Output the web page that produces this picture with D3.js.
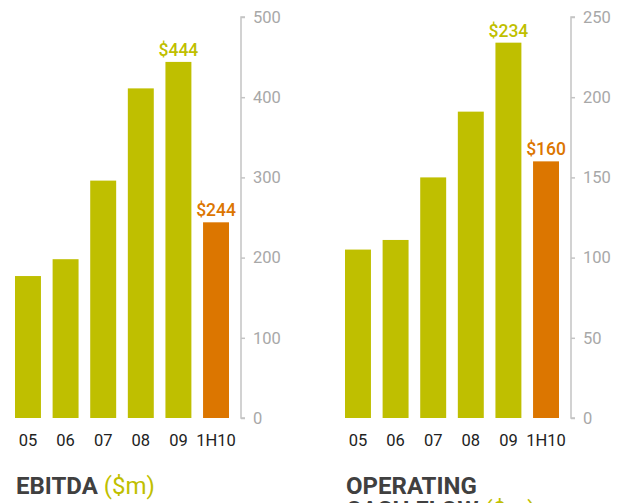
<!DOCTYPE html>
<html><head><meta charset="utf-8">
<script src="https://cdn.jsdelivr.net/npm/d3@7/dist/d3.min.js"></script>
<style>
html,body{margin:0;padding:0;background:#fff;overflow:hidden}
svg{display:block}
</style></head>
<body>
<svg id="c" width="622" height="503"></svg>
<script>
const categories = ["05","06","07","08","09","1H10"];
const ebitdaValues = [177, 198, 296, 411, 444, 244];
const cashFlowValues = [105, 111, 150, 191, 234, 160];
const ebitdaTicks = [0,100,200,300,400,500];
const cashFlowTicks = [0,50,100,150,200,250];
const labeledCategories = ["09","1H10"];

const olive = "#bfbf00", orange = "#dc7600";
const svg = d3.select("#c");
const font = "Roboto, 'Noto Sans', sans-serif";

function chart(cfg){
  const g = svg.append("g");
  const data = categories.map((c,i)=>({c, v: cfg.values[i]}));
  const col = d => d.c==="1H10" ? orange : olive;
  const x = d3.scaleBand().domain(categories).range(cfg.xr).paddingInner(0.31).paddingOuter(0);
  const y = d3.scaleLinear().domain([0, cfg.max]).range([418, 17]);
  g.selectAll("rect.bar").data(data).join("rect")
    .attr("x",d=>x(d.c)).attr("width",x.bandwidth())
    .attr("y",d=>y(d.v)).attr("height",d=>y(0)-y(d.v))
    .attr("fill",col);
  g.selectAll("text.val").data(data.filter(d=>labeledCategories.includes(d.c))).join("text")
    .attr("x",d=>x(d.c)+x.bandwidth()/2)
    .attr("y",d=>y(d.v)-6)
    .attr("text-anchor","middle")
    .attr("font-family",font).attr("font-weight",500).attr("font-size",17.5)
    .attr("fill",col)
    .text(d=>"$"+d.v);
  g.selectAll("text.cat").data(categories).join("text")
    .attr("x",c=>x(c)+x.bandwidth()/2).attr("y",446)
    .attr("text-anchor","middle")
    .attr("font-family",font).attr("font-size",16.5).attr("fill","#222")
    .text(c=>c);
  const ax = g.append("g").attr("transform",`translate(${cfg.axisX},0)`)
    .call(d3.axisRight(y).tickValues(cfg.ticks).tickSize(4).tickPadding(8));
  ax.select(".domain").attr("stroke","#c4c4c4").attr("stroke-width",1.5)
    .attr("d",`M4,${y(cfg.max)}H0V${y(0)}H4`);
  ax.selectAll(".tick line").attr("stroke","#c4c4c4").attr("stroke-width",1.5);
  ax.selectAll(".tick text").attr("fill","#a8a8a8").attr("font-family",font).attr("font-size",16.5);
  const t = g.append("text").attr("font-family",font).attr("font-size",24).attr("font-weight",700).attr("fill","#404040");
  cfg.title.forEach((line,i)=>{
    t.append("tspan").attr("x",cfg.titleX).attr("y",494+i*24).text(line[0]);
    if(line[1]) t.append("tspan").attr("fill",olive).attr("font-weight",400).text(" "+line[1]);
  });
}

chart({values: ebitdaValues, max: 500, ticks: ebitdaTicks, xr:[15,229], axisX: 241,
  titleX: 16, title: [["EBITDA","($m)"]]});
chart({values: cashFlowValues, max: 250, ticks: cashFlowTicks, xr:[345,559], axisX: 571,
  titleX: 346, title: [["OPERATING",null],["CASH FLOW","($m)"]]});
</script>
</body></html>
